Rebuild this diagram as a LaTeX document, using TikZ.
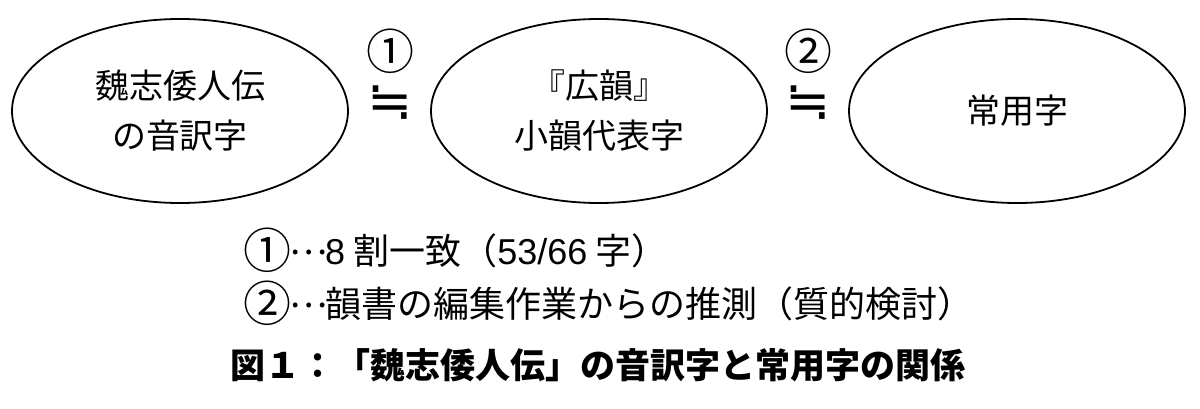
\documentclass[tikz,border=0pt]{standalone}
\usepackage{fontspec}
\setmainfont{Noto Sans CJK JP}
\newfontfamily\symfont{DejaVu Sans}
\newfontfamily\latfont{Liberation Sans}
\newcommand{\circnum}[1]{{\fontsize{48}{48}\selectfont\raisebox{-4pt}{#1}}}
\newcommand{\midell}{\makebox[34pt]{\raisebox{10pt}{…}}}
\usetikzlibrary{shapes.geometric}
\begin{document}
\begin{tikzpicture}[x=1pt,y=-1pt,
  ell/.style={draw, line width=1.8pt, ellipse, minimum width=336pt, minimum height=184pt,
    inner sep=0pt, align=center, font=\fontsize{34}{50}\selectfont},
  lbl/.style={inner sep=0pt, font=\fontsize{48}{48}\selectfont},
  eqs/.style={inner sep=0pt, font=\fontsize{54}{54}\selectfont\symfont},
  note/.style={anchor=west, inner sep=0pt, font=\fontsize{36}{40}\selectfont},
  capt/.style={anchor=west, inner sep=0pt, font=\fontsize{35}{40}\selectfont\bfseries}]
\useasboundingbox (0,0) rectangle (1200,409);
\node[ell] (a) at (180,111) {魏志倭人伝\\の音訳字};
\node[ell] (b) at (599,111) {『広韻』\\小韻代表字};
\node[ell] (c) at (1017,111) {常用字};
\node[lbl] (n1) at (390,51) {①};
\node[eqs] (q1) at (390,103) {≒};
\node[lbl] (n2) at (808,51) {②};
\node[eqs] (q2) at (808,103) {≒};
\node[note] (t1) at (243,250) {\circnum{①}\midell{\latfont 8} 割一致（{\latfont 53/66} 字）};
\node[note] (t2) at (243,303) {\circnum{②}\midell 韻書の編集作業からの推測（質的検討）};
\node[capt] (cap) at (230,365) {図１：「魏志倭人伝」の音訳字と常用字の関係};
\end{tikzpicture}
\end{document}
